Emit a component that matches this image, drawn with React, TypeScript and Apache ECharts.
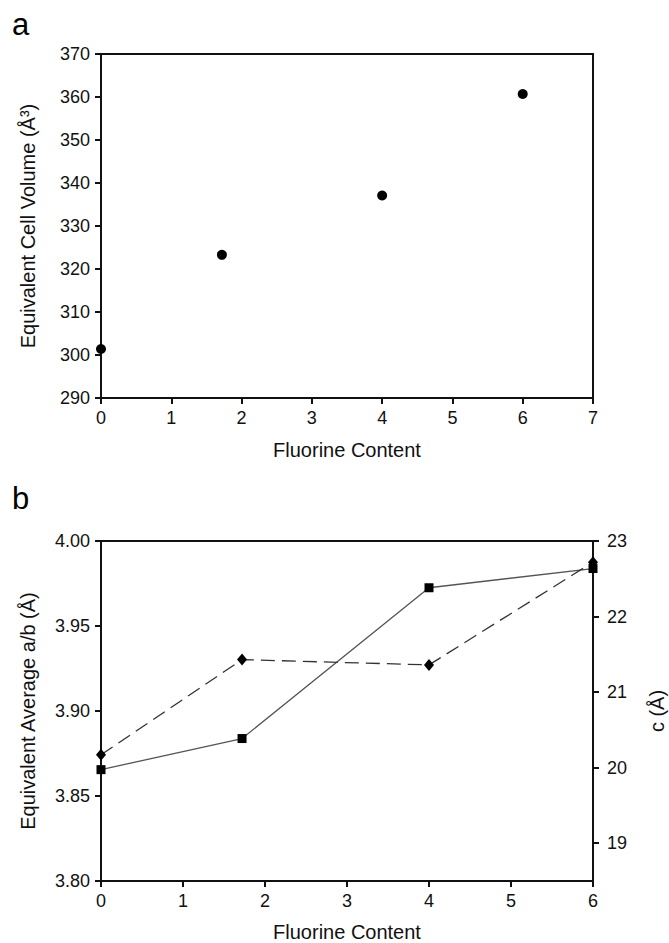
import React, { useEffect, useRef } from "react";
import * as echarts from "echarts";

// Panel a
const volumeX = [0, 1.72, 4, 6];
const volumeY = [301.4, 323.3, 337.1, 360.7];

// Panel b
const fluorineX = [0, 1.72, 4, 6];
const abValues = [3.8655, 3.8838, 3.9725, 3.9838];
const cValues = [20.17, 21.43, 21.36, 22.72];

const topXTicks = [0, 1, 2, 3, 4, 5, 6, 7];
const rightTicks = [19, 20, 21, 22, 23];

const FONT = "Liberation Sans, Arial, sans-serif";
const AX = "#111";

export default function App() {
  const ref = useRef<HTMLDivElement>(null);
  useEffect(() => {
    if (!ref.current) return;
    const chart = echarts.init(ref.current, undefined, { renderer: "svg" });
    const axisLine = { show: true, lineStyle: { color: AX, width: 2 } };
    const axisTick = { show: true, inside: false, length: 6, lineStyle: { color: AX, width: 2 } };
    const label = (margin: number) => ({ color: "#111", fontSize: 18, fontFamily: FONT, margin });
    const nameStyle = { color: "#111", fontSize: 20, fontFamily: FONT };

    chart.setOption({
      animation: false,
      backgroundColor: "#fff",
      graphic: [
        { type: "text", left: 12, top: 9, style: { text: "a", fontSize: 31, fontFamily: FONT, fill: "#000" } },
        { type: "text", left: 12, top: 483, style: { text: "b", fontSize: 31, fontFamily: FONT, fill: "#000" } },
      ],
      grid: [
        { left: 101, top: 54, width: 492, height: 344, show: true, borderColor: AX, borderWidth: 2, backgroundColor: "transparent", outerBoundsMode: "none", containLabel: false },
        { left: 101, top: 541, width: 492, height: 340, show: true, borderColor: AX, borderWidth: 2, backgroundColor: "transparent", outerBoundsMode: "none", containLabel: false },
      ],
      xAxis: [
        {
          type: "value", gridIndex: 0, min: topXTicks[0], max: topXTicks[topXTicks.length - 1], interval: 1,
          axisLine, axisTick, axisLabel: label(11), splitLine: { show: false },
          name: "Fluorine Content", nameLocation: "middle", nameGap: 42, nameTextStyle: nameStyle,
        },
        {
          type: "value", gridIndex: 1, min: 0, max: 6, interval: 1,
          axisLine, axisTick, axisLabel: label(11), splitLine: { show: false },
          name: "Fluorine Content", nameLocation: "middle", nameGap: 41, nameTextStyle: nameStyle,
        },
      ],
      yAxis: [
        {
          type: "value", gridIndex: 0, min: 290, max: 370, interval: 10,
          axisLine, axisTick, axisLabel: label(11), splitLine: { show: false },
          name: "Equivalent Cell Volume (Å³)", nameLocation: "middle", nameGap: 63, nameRotate: 90, nameTextStyle: nameStyle,
        },
        {
          type: "value", gridIndex: 1, min: 3.8, max: 4.0, interval: 0.05,
          axisLine, axisTick, splitLine: { show: false },
          axisLabel: { ...label(11), formatter: (v: number) => v.toFixed(2) },
          name: "Equivalent Average a/b (Å)", nameLocation: "middle", nameGap: 63, nameRotate: 90, nameTextStyle: nameStyle,
        },
        {
          type: "value", gridIndex: 1, position: "right", min: 18.5, max: 23,
          axisLine, splitLine: { show: false },
          axisTick: { ...axisTick, customValues: rightTicks },
          axisLabel: { ...label(14), customValues: rightTicks, formatter: (v: number) => String(v) },
          name: "c (Å)", nameLocation: "middle", nameGap: 54, nameRotate: 90, nameTextStyle: nameStyle,
        },
      ],
      series: [
        {
          type: "scatter", xAxisIndex: 0, yAxisIndex: 0, symbol: "circle", symbolSize: 10,
          itemStyle: { color: "#000", opacity: 1 },
          data: volumeX.map((x, i) => [x, volumeY[i]]),
        },
        {
          type: "line", xAxisIndex: 1, yAxisIndex: 1, symbol: "rect", symbolSize: 9,
          lineStyle: { color: "#555", width: 1.3 }, itemStyle: { color: "#000" },
          data: fluorineX.map((x, i) => [x, abValues[i]]),
        },
        {
          type: "line", xAxisIndex: 1, yAxisIndex: 2, symbol: "diamond", symbolSize: [10, 12],
          lineStyle: { color: "#333", width: 1.3, type: [14, 7] }, itemStyle: { color: "#000" },
          data: fluorineX.map((x, i) => [x, cValues[i]]),
        },
      ],
    });
    return () => chart.dispose();
  }, []);
  return <div ref={ref} style={{ position: "fixed", left: 0, top: 0, width: 669, height: 943 }} />;
}
